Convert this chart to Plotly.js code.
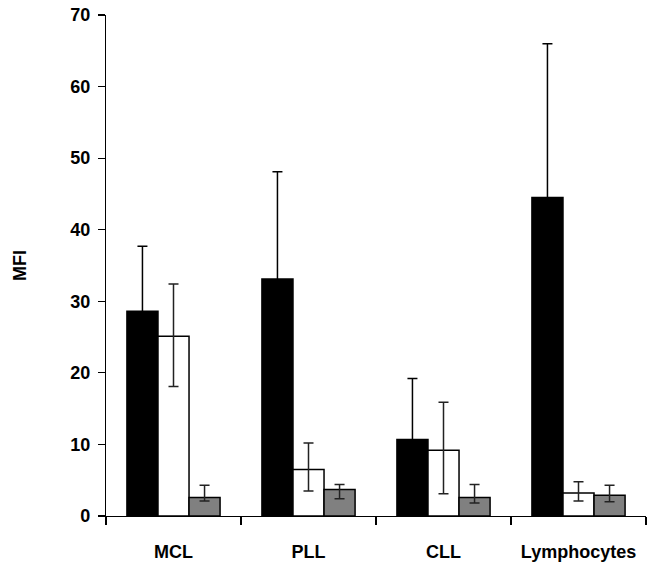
<!DOCTYPE html>
<html>
<head>
<meta charset="utf-8">
<script src="https://cdn.plot.ly/plotly-3.0.1.min.js"></script>
<style>html,body{margin:0;padding:0;background:#fff;}#chart{width:670px;height:566px;}</style>
</head>
<body>
<div id="chart"></div>
<script>
const categories = ['MCL', 'PLL', 'CLL', 'Lymphocytes'];
const blackValues = [28.6, 33.1, 10.7, 44.5];
const blackErr = [9.1, 15.0, 8.5, 21.5];
const whiteValues = [25.1, 6.5, 9.2, 3.2];
const whiteErrPlus = [7.3, 3.7, 6.7, 1.6];
const whiteErrMinus = [7.0, 3.0, 6.1, 1.1];
const greyValues = [2.6, 3.7, 2.6, 2.9];
const greyErrPlus = [1.7, 0.7, 1.8, 1.4];
const greyErrMinus = [0.5, 1.3, 0.8, 0.9];
const yTicks = [0, 10, 20, 30, 40, 50, 60, 70];

function bar(vals, plus, minus, fill, errColor) {
  return {
    type: 'bar', x: categories, y: vals,
    marker: {color: fill, line: {color: '#000', width: 1.5}},
    error_y: {type: 'data', array: plus, arrayminus: minus, symmetric: false,
              color: errColor, thickness: 1.5, width: 5},
    hoverinfo: 'none'
  };
}
const data = [
  bar(blackValues, blackErr, blackErr, '#000000', '#000000'),
  bar(whiteValues, whiteErrPlus, whiteErrMinus, '#ffffff', '#222222'),
  bar(greyValues, greyErrPlus, greyErrMinus, '#808080', '#222222')
];
const font = {family: '"Liberation Sans", Arial, sans-serif', size: 18, color: '#000', weight: 'bold'};
const layout = {
  width: 670, height: 566,
  margin: {l: 106, r: 24, t: 15, b: 50},
  paper_bgcolor: '#fff', plot_bgcolor: '#fff',
  showlegend: false,
  barmode: 'group', bargap: 0.31, bargroupgap: 0,
  font: font,
  xaxis: {
    type: 'category', range: [-0.5, 3.5],
    showline: true, linecolor: '#000', linewidth: 1.2,
    ticks: 'outside', tickson: 'boundaries', ticklen: 8, tickcolor: '#000', tickwidth: 1.2,
    ticklabelstandoff: 19,
    showgrid: false, zeroline: false,
    tickfont: font
  },
  yaxis: {
    range: [0, 70], tickvals: yTicks,
    showline: true, linecolor: '#000', linewidth: 1.2,
    ticks: 'outside', ticklen: 7, tickcolor: '#000', tickwidth: 1.2,
    ticklabelstandoff: 4,
    showgrid: false, zeroline: false,
    tickfont: font,
    title: {text: 'MFI', font: font, standoff: 38}
  }
};
Plotly.newPlot('chart', data, layout, {staticPlot: true});
</script>
</body>
</html>
